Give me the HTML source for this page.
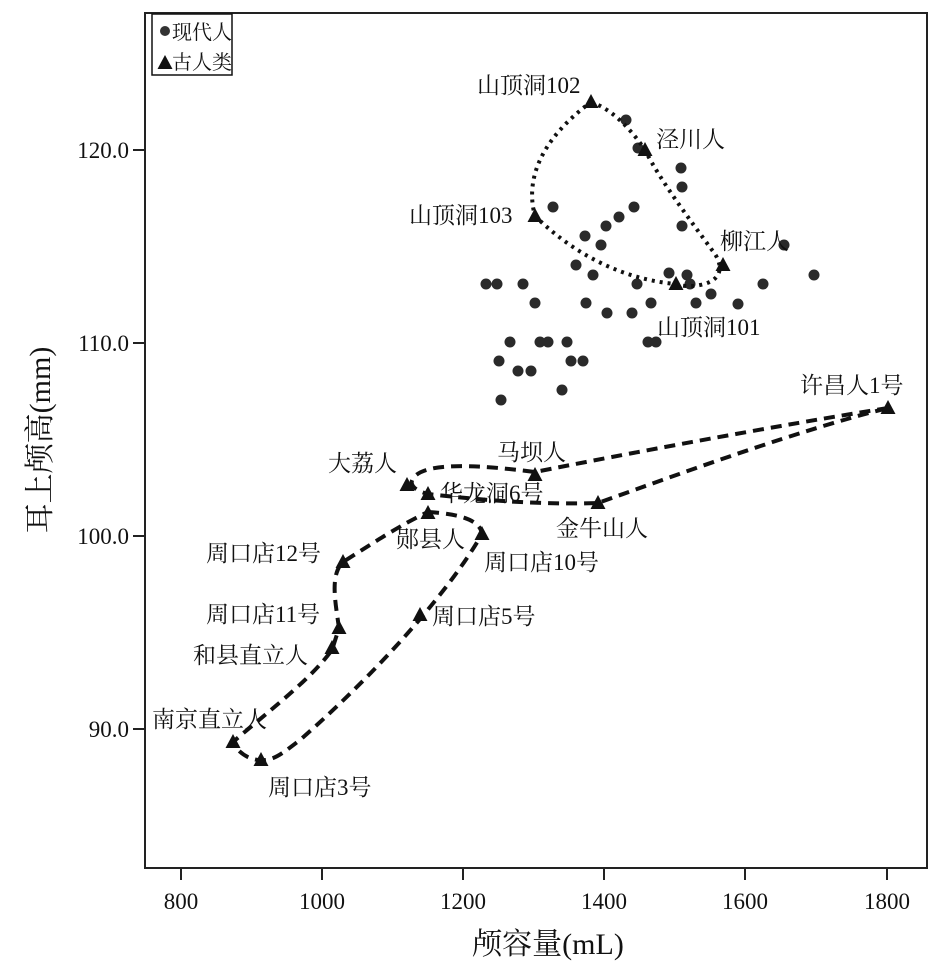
<!DOCTYPE html>
<html><head><meta charset="utf-8"><style>
html,body{margin:0;padding:0;background:#fff;}
svg text{font-family:"Liberation Serif","Noto Serif CJK SC","Noto Sans CJK SC",serif;fill:#111;}
</style></head><body>
<svg width="945" height="973" viewBox="0 0 945 973" xmlns="http://www.w3.org/2000/svg">
<defs>
<symbol id="t" viewBox="-8 -8 16 16" overflow="visible"><polygon points="0,-8 7.5,6 -7.5,6" fill="#111"/></symbol>
</defs>
<rect x="145" y="13" width="782" height="855" fill="none" stroke="#222" stroke-width="2"/>
<g stroke="#222" stroke-width="2">
<line x1="133" y1="150" x2="145" y2="150"/><line x1="133" y1="343" x2="145" y2="343"/>
<line x1="133" y1="536" x2="145" y2="536"/><line x1="133" y1="729" x2="145" y2="729"/>
<line x1="181" y1="868" x2="181" y2="880"/><line x1="322" y1="868" x2="322" y2="880"/>
<line x1="463" y1="868" x2="463" y2="880"/><line x1="604" y1="868" x2="604" y2="880"/>
<line x1="745" y1="868" x2="745" y2="880"/><line x1="887" y1="868" x2="887" y2="880"/>
</g>
<g font-size="23" text-anchor="end">
<text x="129" y="158">120.0</text><text x="129" y="351">110.0</text>
<text x="129" y="544">100.0</text><text x="129" y="737">90.0</text>
</g>
<g font-size="23" text-anchor="middle">
<text x="181" y="909">800</text><text x="322" y="909">1000</text><text x="463" y="909">1200</text>
<text x="604" y="909">1400</text><text x="745" y="909">1600</text><text x="887" y="909">1800</text>
</g>
<text x="548" y="954" font-size="30" text-anchor="middle">颅容量(mL)</text>
<text transform="translate(50,440) rotate(-90)" font-size="30" text-anchor="middle">耳上颅高(mm)</text>
<rect x="152" y="14" width="80" height="61" fill="#fff" stroke="#111" stroke-width="1.5"/>
<circle cx="165" cy="31" r="5" fill="#333"/>
<text x="172" y="39" font-size="20">现代人</text>
<use href="#t" x="157" y="55" width="16" height="16"/>
<text x="172" y="69" font-size="20">古人类</text>
<g fill="#2a2a2a">
<circle cx="626" cy="120" r="5.5"/><circle cx="638" cy="148" r="5.5"/><circle cx="681" cy="168" r="5.5"/><circle cx="682" cy="187" r="5.5"/>
<circle cx="553" cy="207" r="5.5"/><circle cx="634" cy="207" r="5.5"/><circle cx="606" cy="226" r="5.5"/><circle cx="619" cy="217" r="5.5"/>
<circle cx="585" cy="236" r="5.5"/><circle cx="601" cy="245" r="5.5"/><circle cx="682" cy="226" r="5.5"/><circle cx="576" cy="265" r="5.5"/>
<circle cx="593" cy="275" r="5.5"/><circle cx="669" cy="273" r="5.5"/><circle cx="687" cy="275" r="5.5"/><circle cx="486" cy="284" r="5.5"/>
<circle cx="497" cy="284" r="5.5"/><circle cx="523" cy="284" r="5.5"/><circle cx="637" cy="284" r="5.5"/><circle cx="690" cy="284" r="5.5"/>
<circle cx="763" cy="284" r="5.5"/><circle cx="711" cy="294" r="5.5"/><circle cx="738" cy="304" r="5.5"/><circle cx="535" cy="303" r="5.5"/>
<circle cx="586" cy="303" r="5.5"/><circle cx="651" cy="303" r="5.5"/><circle cx="696" cy="303" r="5.5"/><circle cx="607" cy="313" r="5.5"/>
<circle cx="632" cy="313" r="5.5"/><circle cx="510" cy="342" r="5.5"/><circle cx="540" cy="342" r="5.5"/><circle cx="548" cy="342" r="5.5"/>
<circle cx="567" cy="342" r="5.5"/><circle cx="648" cy="342" r="5.5"/><circle cx="656" cy="342" r="5.5"/><circle cx="499" cy="361" r="5.5"/>
<circle cx="571" cy="361" r="5.5"/><circle cx="583" cy="361" r="5.5"/><circle cx="518" cy="371" r="5.5"/><circle cx="531" cy="371" r="5.5"/>
<circle cx="562" cy="390" r="5.5"/><circle cx="501" cy="400" r="5.5"/><circle cx="784" cy="245" r="5.5"/><circle cx="814" cy="275" r="5.5"/>
</g>
<g fill="none" stroke="#111" stroke-width="4">
<path stroke-dasharray="3,5" d="M591,102 C615,110 635,135 645,150 C660,180 690,220 712,250 C722,262 726,280 700,285 C690,287 680,286 676,284 C630,280 580,260 535,216 C525,180 540,140 591,102"/>
<path stroke-dasharray="11,7" d="M888,408 C780,425 620,455 535,472 C480,465 430,462 415,476 C405,486 420,492 428,494 C480,500 540,505 598,503 C690,470 800,430 888,408"/>
<path stroke-dasharray="11,7" d="M428,512 C460,514 480,520 482,534 C450,590 380,670 300,740 C280,755 270,765 250,758 C240,754 233,745 233,742 C270,710 310,680 332,650 L339,628 C335,600 330,575 343,562 C370,545 400,525 428,512"/>
</g>
<g>
<use href="#t" x="583" y="94" width="16" height="16"/><use href="#t" x="637" y="142" width="16" height="16"/>
<use href="#t" x="527" y="208" width="16" height="16"/><use href="#t" x="715" y="257" width="16" height="16"/>
<use href="#t" x="668" y="276" width="16" height="16"/><use href="#t" x="880" y="400" width="16" height="16"/>
<use href="#t" x="527" y="467" width="16" height="16"/><use href="#t" x="399" y="477" width="16" height="16"/>
<use href="#t" x="420" y="486" width="16" height="16"/><use href="#t" x="590" y="495" width="16" height="16"/>
<use href="#t" x="420" y="505" width="16" height="16"/><use href="#t" x="474" y="526" width="16" height="16"/>
<use href="#t" x="335" y="554" width="16" height="16"/><use href="#t" x="331" y="620" width="16" height="16"/>
<use href="#t" x="324" y="640" width="16" height="16"/><use href="#t" x="412" y="607" width="16" height="16"/>
<use href="#t" x="225" y="734" width="16" height="16"/><use href="#t" x="253" y="752" width="16" height="16"/>
</g>
<g font-size="23">
<text x="477" y="93">山顶洞102</text>
<text x="656" y="147">泾川人</text>
<text x="409" y="223">山顶洞103</text>
<text x="720" y="249">柳江人</text>
<text x="657" y="335">山顶洞101</text>
<text x="800" y="393">许昌人1号</text>
<text x="497" y="460">马坝人</text>
<text x="328" y="471">大荔人</text>
<text x="440" y="501">华龙洞6号</text>
<text x="556" y="536">金牛山人</text>
<text x="396" y="547">郧县人</text>
<text x="484" y="570">周口店10号</text>
<text x="206" y="561">周口店12号</text>
<text x="206" y="622">周口店11号</text>
<text x="193" y="663">和县直立人</text>
<text x="432" y="624">周口店5号</text>
<text x="152" y="727">南京直立人</text>
<text x="268" y="795">周口店3号</text>
</g>
</svg>
</body></html>
